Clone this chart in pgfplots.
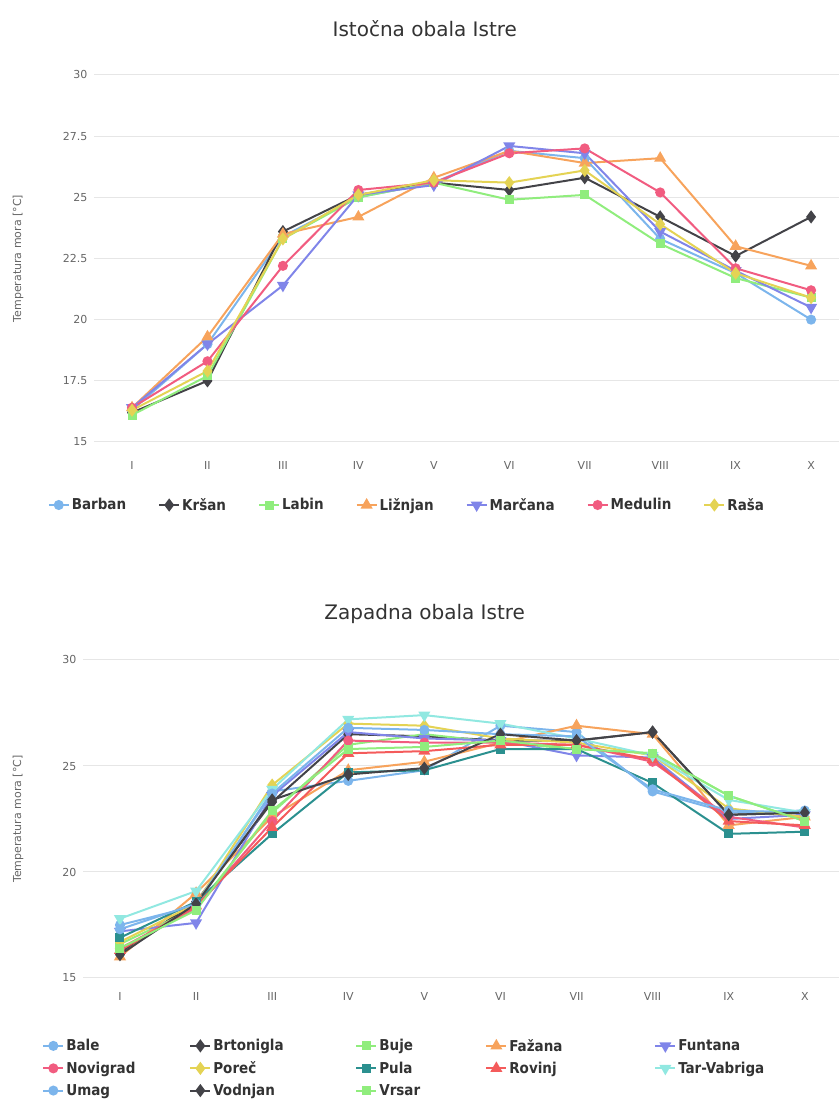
\documentclass[border=0pt]{standalone}
\usepackage{fontspec}
\setmainfont{DejaVu Sans}
\newfontfamily\legfont{DejaVu Sans Condensed}
\usepackage{pgfplots}
\usepackage{pgfplotstable}
\pgfplotsset{compat=1.18}

\definecolor{hcblue}{HTML}{7CB5EC}
\definecolor{hcblack}{HTML}{434348}
\definecolor{hcgreen}{HTML}{90ED7D}
\definecolor{hcorange}{HTML}{F7A35C}
\definecolor{hcpurple}{HTML}{8085E9}
\definecolor{hcpink}{HTML}{F15C80}
\definecolor{hcyellow}{HTML}{E4D354}
\definecolor{hcteal}{HTML}{2B908F}
\definecolor{hcred}{HTML}{F45B5B}
\definecolor{hccyan}{HTML}{91E8E1}
\definecolor{gridc}{HTML}{E6E6E6}
\definecolor{labc}{HTML}{666666}
\definecolor{titc}{HTML}{333333}

\pgfplotstableread{
x Barban Krsan Labin Liznjan Marcana Medulin Rasa
0 16.3 16.2 16.1 16.4 16.4 16.4 16.3
1 19.0 17.5 17.7 19.3 19.0 18.3 17.9
2 23.4 23.6 23.3 23.5 21.4 22.2 23.3
3 25.0 25.1 25.0 24.2 25.1 25.3 25.1
4 25.6 25.6 25.6 25.8 25.5 25.6 25.7
5 26.9 25.3 24.9 26.9 27.1 26.8 25.6
6 26.6 25.8 25.1 26.4 26.8 27.0 26.1
7 23.3 24.2 23.1 26.6 23.6 25.2 23.9
8 21.9 22.6 21.7 23.0 22.0 22.1 21.9
9 20.0 24.2 20.9 22.2 20.5 21.2 20.9
}\east

\pgfplotstableread{
x Bale Brtonigla Buje Fazana Funtana Novigrad Porec Pula Rovinj TarVabriga Umag Vodnjan Vrsar
0 17.5 16.2 16.6 16.0 17.2 16.4 16.7 16.9 16.3 17.8 17.3 16.1 16.4
1 18.4 18.6 18.3 19.0 17.6 18.3 18.5 18.6 18.4 19.1 18.5 18.5 18.2
2 23.8 23.3 22.8 22.6 23.6 22.4 24.1 21.8 22.1 23.9 23.7 23.4 22.9
3 24.3 26.5 26.0 24.8 26.6 26.2 27.0 24.7 25.6 27.2 26.8 24.6 25.8
4 24.8 26.4 26.5 25.2 26.3 26.1 26.9 24.8 25.7 27.4 26.7 24.9 25.9
5 26.9 26.2 26.1 26.1 26.2 26.1 26.3 25.8 26.0 27.0 26.5 26.5 26.2
6 26.6 26.2 25.8 26.9 25.5 26.0 26.1 25.8 26.0 26.3 26.4 26.2 25.8
7 23.8 26.6 25.6 26.5 25.4 25.2 25.5 24.2 25.3 25.5 23.9 26.6 25.6
8 22.8 22.7 23.6 22.2 22.5 22.6 23.0 21.8 22.4 23.4 22.9 22.7 23.6
9 22.9 22.8 22.4 22.6 22.7 22.1 22.6 21.9 22.2 22.8 22.8 22.8 22.4
}\west

\pgfplotsset{
  hcaxis/.style={
    scale only axis,
    axis line style={draw=none},
    major tick length=0pt,
    ymajorgrids,
    grid style={gridc, line width=1pt},
    xtick={0,...,9},
    xticklabels={I,II,III,IV,V,VI,VII,VIII,IX,X},
    ticklabel style={font=\fontsize{11}{13}\selectfont, text=labc},
    ymin=15, ymax=30,
    clip=false,
    ylabel={Temperatura mora [°C]},
    title style={font=\fontsize{20}{24}\selectfont, text=titc, anchor=center},
    legend image code/.code={\draw[mark repeat=2,mark phase=2,##1] plot coordinates {(0pt,0pt) (10pt,0pt) (20pt,0pt)};},
  },
  sc/.style={color=#1, line width=2pt, mark=*, mark size=4pt, mark options={solid}},
  sd/.style={color=#1, line width=2pt, mark=diamond*, mark size=5pt, mark options={solid}},
  ss/.style={color=#1, line width=2pt, mark=square*, mark size=3.5pt, mark options={solid}},
  st/.style={color=#1, line width=2pt, mark=triangle*, mark size=5pt, mark options={solid}},
  sv/.style={color=#1, line width=2pt, mark=triangle*, mark size=5pt, mark options={solid, rotate=180}},
}

\begin{document}
\begin{tikzpicture}
\path[use as bounding box] (0,0) rectangle (839pt,1099pt);

% ---------- top chart ----------
\begin{axis}[hcaxis,
  at={(94pt,657pt)}, anchor=south west,
  width=745pt, height=367pt,
  xmin=-0.504, xmax=9.37,
  ytick={15,17.5,20,22.5,25,27.5,30},
  yticklabels={15,17.5,20,22.5,25,27.5,30},
  yticklabel style={xshift=-3pt},
  xticklabel style={yshift=-16pt},
  every axis y label/.style={at={(axis description cs:0,0.5)}, xshift=-76pt, rotate=90, anchor=center, font=\fontsize{11}{13}\selectfont, text=labc},
  title={Istočna obala Istre},
  title style={at={(axis description cs:0.444,1)}, yshift=40pt},
  legend columns=7,
  legend style={draw=none, fill=none, at={(axis description cs:0.42,-0.1717)}, anchor=center,
    font=\legfont\bfseries\fontsize{15}{17}\selectfont, text=titc,
    /tikz/every even column/.append style={column sep=30pt}},
]
\addplot[sc=hcblue] table[x=x,y=Barban]{\east}; \addlegendentry{Barban}
\addplot[sd=hcblack] table[x=x,y=Krsan]{\east}; \addlegendentry{Kršan}
\addplot[ss=hcgreen] table[x=x,y=Labin]{\east}; \addlegendentry{Labin}
\addplot[st=hcorange] table[x=x,y=Liznjan]{\east}; \addlegendentry{Ližnjan}
\addplot[sv=hcpurple] table[x=x,y=Marcana]{\east}; \addlegendentry{Marčana}
\addplot[sc=hcpink] table[x=x,y=Medulin]{\east}; \addlegendentry{Medulin}
\addplot[sd=hcyellow] table[x=x,y=Rasa]{\east}; \addlegendentry{Raša}
\end{axis}

% ---------- bottom chart ----------
\begin{axis}[hcaxis,
  at={(83pt,121pt)}, anchor=south west,
  width=756pt, height=318pt,
  xmin=-0.486, xmax=9.45,
  ytick={15,20,25,30},
  yticklabels={15,20,25,30},
  yticklabel style={xshift=-3pt},
  xticklabel style={yshift=-11pt},
  every axis y label/.style={at={(axis description cs:0,0.5)}, xshift=-65pt, rotate=90, anchor=center, font=\fontsize{11}{13}\selectfont, text=labc},
  title={Zapadna obala Istre},
  title style={at={(axis description cs:0.452,1)}, yshift=40pt},
  legend columns=5,
  legend style={draw=none, fill=none, at={(axis description cs:-0.058,-0.179)}, anchor=north west,
    font=\legfont\bfseries\fontsize{15}{17}\selectfont, text=titc,
    /tikz/every even column/.append style={column sep=4pt},
    row sep=5pt},
  legend cell align=left,
]
\addplot[sc=hcblue] table[x=x,y=Bale]{\west}; \addlegendentry{\makebox[117pt][l]{Bale}}
\addplot[sd=hcblack] table[x=x,y=Brtonigla]{\west}; \addlegendentry{\makebox[136pt][l]{Brtonigla}}
\addplot[ss=hcgreen] table[x=x,y=Buje]{\west}; \addlegendentry{\makebox[100pt][l]{Buje}}
\addplot[st=hcorange] table[x=x,y=Fazana]{\west}; \addlegendentry{\makebox[139pt][l]{Fažana}}
\addplot[sv=hcpurple] table[x=x,y=Funtana]{\west}; \addlegendentry{Funtana}
\addplot[sc=hcpink] table[x=x,y=Novigrad]{\west}; \addlegendentry{Novigrad}
\addplot[sd=hcyellow] table[x=x,y=Porec]{\west}; \addlegendentry{Poreč}
\addplot[ss=hcteal] table[x=x,y=Pula]{\west}; \addlegendentry{Pula}
\addplot[st=hcred] table[x=x,y=Rovinj]{\west}; \addlegendentry{Rovinj}
\addplot[sv=hccyan] table[x=x,y=TarVabriga]{\west}; \addlegendentry{Tar-Vabriga}
\addplot[sc=hcblue] table[x=x,y=Umag]{\west}; \addlegendentry{Umag}
\addplot[sd=hcblack] table[x=x,y=Vodnjan]{\west}; \addlegendentry{Vodnjan}
\addplot[ss=hcgreen] table[x=x,y=Vrsar]{\west}; \addlegendentry{Vrsar}
\end{axis}
\end{tikzpicture}
\end{document}
